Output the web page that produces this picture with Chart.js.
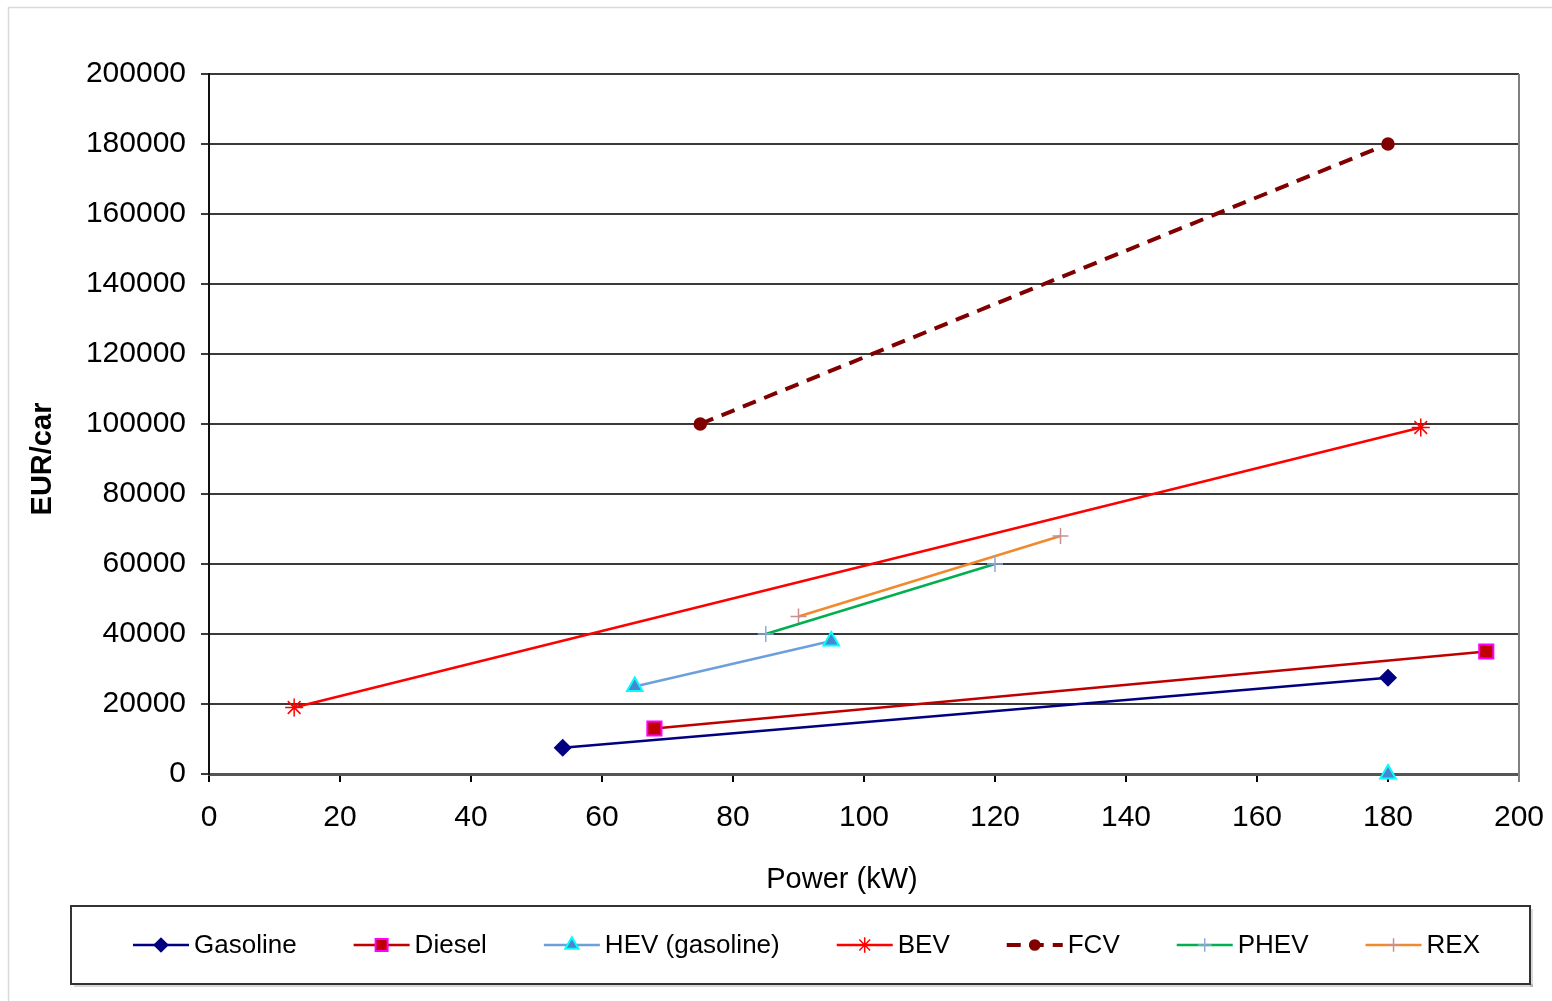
<!DOCTYPE html>
<html>
<head>
<meta charset="utf-8">
<title>EUR/car vs Power</title>
<script src="https://cdn.jsdelivr.net/npm/chart.js@4.4.1/dist/chart.umd.min.js"></script>
<style>
  html, body { margin: 0; padding: 0; background: #fff; }
  #chart { display: block; }
</style>
</head>
<body>
<canvas id="chart" width="1552" height="1001"></canvas>
<script>
// power (kW) and cost (EUR/car) per drivetrain
var seriesNames = ['Gasoline', 'Diesel', 'HEV (gasoline)', 'BEV', 'FCV', 'PHEV', 'REX'];
var gasolineKW = [54, 180];
var gasolineEUR = [7500, 27500];
var dieselKW = [68, 195];
var dieselEUR = [13000, 35000];
var hevKW = [65, 95, null, 180];
var hevEUR = [25000, 38000, null, 0];
var bevKW = [13, 185];
var bevEUR = [19000, 99000];
var fcvKW = [75, 180];
var fcvEUR = [100000, 180000];
var phevKW = [85, 120];
var phevEUR = [40000, 60000];
var rexKW = [90, 130];
var rexEUR = [45000, 68000];

var xTicks = [0, 20, 40, 60, 80, 100, 120, 140, 160, 180, 200];
var yTicks = [0, 20000, 40000, 60000, 80000, 100000, 120000, 140000, 160000, 180000, 200000];

var FONT = "'Liberation Sans', Arial, sans-serif";

function toPoints(xs, ys) {
    var pts = [];
    for (let i = 0; i < xs.length; i++) {
        pts.push({ x: xs[i], y: ys[i] });
    }
    return pts;
}

function makeSet(idx, xs, ys, style) {
    return Object.assign({
        label: seriesNames[idx],
        data: toPoints(xs, ys),
        showLine: true,
        borderWidth: 2.5,
        pointBorderWidth: 1.5,
        clip: false,
        spanGaps: false
    }, style);
}

var datasets = [
    makeSet(0, gasolineKW, gasolineEUR, {
        borderColor: '#000080', pointStyle: 'rectRot', pointRadius: 8,
        pointBackgroundColor: '#000080', pointBorderColor: '#000080'
    }),
    makeSet(1, dieselKW, dieselEUR, {
        borderColor: '#c00000', pointStyle: 'rect', pointRadius: 10,
        pointBackgroundColor: '#c00000', pointBorderColor: '#ff00ff', pointBorderWidth: 2
    }),
    makeSet(2, hevKW, hevEUR, {
        borderColor: '#6c9fdc', pointStyle: 'triangle', pointRadius: 9,
        pointBackgroundColor: '#4a86d0', pointBorderColor: '#00ffff', pointBorderWidth: 2
    }),
    makeSet(3, bevKW, bevEUR, {
        borderColor: '#ff0000', pointStyle: 'star', pointRadius: 9,
        pointBackgroundColor: '#ff0000', pointBorderColor: '#ff0000'
    }),
    makeSet(4, fcvKW, fcvEUR, {
        borderColor: '#800000', borderWidth: 4, borderDash: [14, 9], pointStyle: 'circle', pointRadius: 6,
        pointBackgroundColor: '#800000', pointBorderColor: '#800000'
    }),
    makeSet(5, phevKW, phevEUR, {
        borderColor: '#00b050', pointStyle: 'cross', pointRadius: 8,
        pointBackgroundColor: '#8eaadb', pointBorderColor: '#8eaadb'
    }),
    makeSet(6, rexKW, rexEUR, {
        borderColor: '#f08a2c', pointStyle: 'cross', pointRadius: 8,
        pointBackgroundColor: '#c89090', pointBorderColor: '#c89090'
    })
];

// frame, axis titles, right border and the boxed legend
var decorations = {
    id: 'decorations',
    beforeDraw: function (chart) {
        var ctx = chart.ctx;
        ctx.save();
        ctx.fillStyle = '#fff';
        ctx.fillRect(0, 0, chart.width, chart.height);
        ctx.strokeStyle = '#d9d9d9';
        ctx.lineWidth = 1.5;
        ctx.strokeRect(8.5, 7.5, chart.width + 20, chart.height + 20);
        ctx.restore();
    },
    afterDraw: function (chart) {
        var ctx = chart.ctx;
        var area = chart.chartArea;
        ctx.save();

        ctx.strokeStyle = '#808080';
        ctx.lineWidth = 2;
        ctx.beginPath();
        ctx.moveTo(area.right, area.top);
        ctx.lineTo(area.right, area.bottom + 8);
        ctx.stroke();

        ctx.fillStyle = '#000';
        ctx.textAlign = 'center';
        ctx.textBaseline = 'middle';
        ctx.font = '29px ' + FONT;
        ctx.fillText('Power (kW)', 842, 880);

        ctx.save();
        ctx.translate(43, 459);
        ctx.rotate(-Math.PI / 2);
        ctx.font = 'bold 29px ' + FONT;
        ctx.fillText('EUR/car', 0, 0);
        ctx.restore();

        // legend box
        var box = { left: 71, top: 906, right: 1530, bottom: 984 };
        ctx.fillStyle = 'rgba(0,0,0,0.15)';
        ctx.fillRect(box.left + 3, box.bottom, box.right - box.left, 3);
        ctx.fillRect(box.right, box.top + 3, 3, box.bottom - box.top);
        ctx.fillStyle = '#fff';
        ctx.fillRect(box.left, box.top, box.right - box.left, box.bottom - box.top);
        ctx.strokeStyle = '#333';
        ctx.lineWidth = 2;
        ctx.strokeRect(box.left, box.top, box.right - box.left, box.bottom - box.top);

        ctx.font = '26px ' + FONT;
        var lineLen = 56, textGap = 5, itemGap = 57;
        var widths = chart.data.datasets.map(function (ds) {
            return lineLen + textGap + ctx.measureText(ds.label).width;
        });
        var total = widths.reduce(function (a, b) { return a + b; }, 0) + itemGap * (widths.length - 1);
        var x = (box.left + box.right) / 2 - total / 2 + 6;
        var cy = (box.top + box.bottom) / 2;

        chart.data.datasets.forEach(function (ds, i) {
            ctx.save();
            ctx.strokeStyle = ds.borderColor;
            ctx.lineWidth = ds.borderWidth;
            ctx.setLineDash(ds.borderDash || []);
            ctx.beginPath();
            ctx.moveTo(x, cy);
            ctx.lineTo(x + lineLen, cy);
            ctx.stroke();
            ctx.setLineDash([]);
            ctx.fillStyle = ds.pointBackgroundColor;
            ctx.strokeStyle = ds.pointBorderColor;
            ctx.lineWidth = ds.pointBorderWidth;
            Chart.helpers.drawPoint(ctx, {
                pointStyle: ds.pointStyle,
                radius: ds.pointRadius * 0.85,
                rotation: 0,
                borderWidth: ds.pointBorderWidth
            }, x + lineLen / 2, cy);
            ctx.restore();

            ctx.fillStyle = '#000';
            ctx.textAlign = 'left';
            ctx.textBaseline = 'middle';
            ctx.fillText(ds.label, x + lineLen + textGap, cy + 1);
            x += widths[i] + itemGap;
        });

        ctx.restore();
    }
};

const ctx = document.getElementById('chart');
const costChart = new Chart(ctx, {
    type: 'scatter',
    data: { datasets: datasets },
    options: {
        responsive: false,
        animation: false,
        layout: { padding: { top: 74, right: 33, bottom: 97, left: 0 } },
        plugins: {
            legend: { display: false },
            tooltip: { enabled: false }
        },
        scales: {
            x: {
                type: 'linear',
                min: 0,
                max: 200,
                afterFit: function (s) {
                    s.height = 130;
                    s.paddingLeft = 0;
                    s.paddingRight = 0;
                },
                afterBuildTicks: function (s) {
                    s.ticks = xTicks.map(function (v) { return { value: v }; });
                },
                ticks: {
                    color: '#000',
                    padding: 18,
                    font: { family: FONT, size: 30 },
                    callback: function (v) { return String(v); }
                },
                grid: {
                    drawOnChartArea: false,
                    drawTicks: true,
                    tickLength: 8,
                    color: '#000',
                    lineWidth: 2
                },
                border: { display: true, color: '#555', width: 3 }
            },
            y: {
                type: 'linear',
                min: 0,
                max: 200000,
                afterFit: function (s) {
                    s.width = 209;
                    s.paddingTop = 0;
                    s.paddingBottom = 0;
                },
                afterBuildTicks: function (s) {
                    s.ticks = yTicks.map(function (v) { return { value: v }; });
                },
                ticks: {
                    color: '#000',
                    padding: 15,
                    font: { family: FONT, size: 30 },
                    callback: function (v) { return String(v); }
                },
                grid: {
                    drawTicks: true,
                    tickLength: 8,
                    color: '#3a3a3a',
                    lineWidth: 2
                },
                border: { display: true, color: '#111', width: 2 }
            }
        }
    },
    plugins: [decorations]
});
</script>
</body>
</html>
